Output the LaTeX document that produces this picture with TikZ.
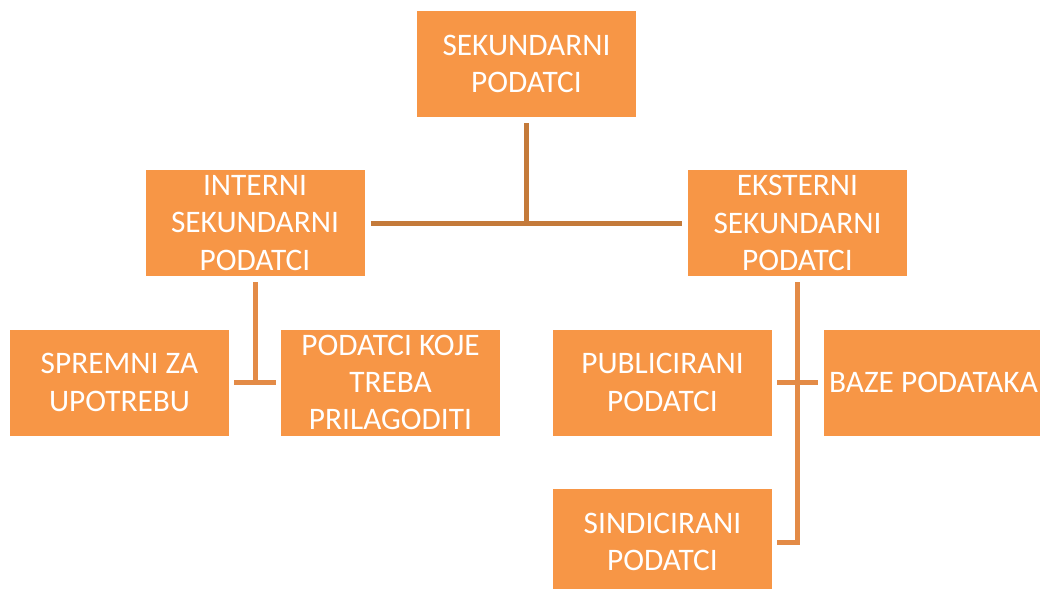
\documentclass[tikz,border=0pt]{standalone}
\usepackage{fontspec}
\setmainfont{Carlito}
\usepackage{xcolor}
\definecolor{boxorange}{HTML}{F79646}
\definecolor{trunkbrown}{HTML}{C47A3A}
\definecolor{branchorange}{HTML}{E38B47}

\begin{document}
\begin{tikzpicture}[x=0.75pt,y=-0.75pt]
\tikzset{every node/.style={font=\fontsize{23.5}{28}\selectfont,text=white}}
\tikzset{databox/.style={fill=boxorange,minimum width=164.25pt,minimum height=79.5pt,inner sep=0pt,align=center}}
\tikzset{trunk/.style={draw=trunkbrown,line width=3.75pt}}
\tikzset{branch/.style={draw=branchorange,line width=3.75pt}}

\clip (0,0) rectangle (1040,589);

\node[databox] (root) at (526.5,64) {SEKUNDARNI\\PODATCI};
\node[databox] (interni) at (255,223) {INTERNI\\SEKUNDARNI\\PODATCI};
\node[databox] (eksterni) at (797.5,223) {EKSTERNI\\SEKUNDARNI\\PODATCI};
\node[databox] (spremni) at (119.5,382.5) {SPREMNI ZA\\UPOTREBU};
\node[databox] (prilagoditi) at (390.5,382.5) {PODATCI KOJE\\TREBA\\PRILAGODITI};
\node[databox] (publicirani) at (662.5,382.5) {PUBLICIRANI\\PODATCI};
\node[databox] (baze) at (933.5,382.5) {BAZE PODATAKA};
\node[databox] (sindicirani) at (662.5,542) {SINDICIRANI\\PODATCI};

\coordinate (rootjoin) at (root.south |- interni.east);
\coordinate (internijoin) at (interni.south |- spremni.east);
\coordinate (eksternijoin) at (eksterni.south |- sindicirani.east);

\draw[trunk] ([yshift=-4.5pt]root.south) -- (rootjoin);
\draw[trunk] ([xshift=4.5pt]interni.east) -- ([xshift=-4.5pt]eksterni.west);

\draw[branch] ([yshift=-4.5pt]interni.south) -- (internijoin);
\draw[branch] ([xshift=3.75pt]spremni.east) -- ([xshift=-3.75pt]prilagoditi.west);

\draw[branch] ([yshift=-4.5pt]eksterni.south) -- (eksternijoin) -- ([xshift=3.75pt]sindicirani.east);
\draw[branch] ([xshift=3.75pt]publicirani.east) -- ([xshift=-4.5pt]baze.west);

\end{tikzpicture}
\end{document}
